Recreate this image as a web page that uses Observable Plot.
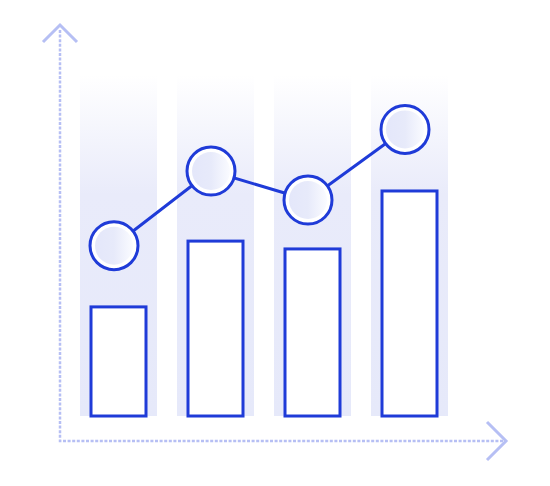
<!DOCTYPE html>
<html>
<head>
<meta charset="utf-8">
<script src="https://cdn.jsdelivr.net/npm/d3@7"></script>
<script src="https://cdn.jsdelivr.net/npm/@observablehq/plot@0.6"></script>
<style>
  html, body { margin: 0; padding: 0; background: #ffffff; }
</style>
</head>
<body>
<div id="chart"></div>
<script>
// ---- data ----
const categories = ["A", "B", "C", "D"];
const barValues = [32, 51.3, 49, 66];
const lineValues = [50.1, 72, 63.5, 84.2];
const backdropValues = [100, 100, 100, 100];

const blue = "#1f3bd8";
const axisColor = "#b6bff4";

const rows = categories.map((c, i) => ({
  cat: c, bar: barValues[i], line: lineValues[i], backdrop: backdropValues[i]
}));

const defsMark = () => {
  const g = d3.create("svg:g");
  const defs = g.append("defs");
  const bg = defs.append("linearGradient").attr("id", "bandGrad")
    .attr("x1", 0).attr("y1", 0).attr("x2", 0).attr("y2", 1);
  bg.append("stop").attr("offset", "0").attr("stop-color", "#ffffff");
  bg.append("stop").attr("offset", "0.35").attr("stop-color", "#e9ebfa");
  bg.append("stop").attr("offset", "1").attr("stop-color", "#e6e9fa");
  const cg = defs.append("linearGradient").attr("id", "circGrad")
    .attr("x1", 0).attr("y1", 0).attr("x2", 1).attr("y2", 0);
  cg.append("stop").attr("offset", "0").attr("stop-color", "#e4e7fa");
  cg.append("stop").attr("offset", "0.5").attr("stop-color", "#e7eafa");
  cg.append("stop").attr("offset", "1").attr("stop-color", "#fafbff");
  return g.node();
};

const axesMark = (index, scales, values, dims) => {
  const {width, height, marginLeft, marginRight, marginTop, marginBottom} = dims;
  const x0 = marginLeft, y0 = height - marginBottom;
  const x1 = width - marginRight, y1 = marginTop;
  const g = d3.create("svg:g").attr("fill", "none");
  g.append("path")
    .attr("d", `M${x0},${y1 + 2}V${y0}H${x1}`)
    .attr("stroke", axisColor).attr("stroke-width", 2.5)
    .attr("stroke-dasharray", "3,1.6");
  g.append("path")
    .attr("d", `M${x0 - 17},${y1 + 14}L${x0},${y1 - 3}L${x0 + 17},${y1 + 14}`)
    .attr("stroke", axisColor).attr("stroke-width", 3);
  g.append("path")
    .attr("d", `M${x1 - 18},${y0 - 19}L${x1 + 1},${y0}L${x1 - 18},${y0 + 19}`)
    .attr("stroke", axisColor).attr("stroke-width", 3);
  return g.node();
};

const chart = Plot.plot({
  width: 550,
  height: 486,
  marginLeft: 60,
  marginRight: 45,
  marginTop: 28,
  marginBottom: 45,
  style: {background: "#ffffff"},
  x: {type: "band", domain: categories, paddingInner: 0.2094, paddingOuter: 0.389, align: 0.256, axis: null},
  y: {domain: [-7.33, 113.8], axis: null},
  marks: [
    defsMark,
    Plot.barY(rows, {x: "cat", y: "backdrop", fill: "url(#bandGrad)"}),
    Plot.barY(rows, {x: "cat", y: "bar", fill: "#ffffff", stroke: blue, strokeWidth: 3, insetLeft: 11, insetRight: 11}),
    Plot.line(rows, {x: "cat", y: "line", stroke: blue, strokeWidth: 3, dx: -5}),
    Plot.dot(rows, {x: "cat", y: "line", r: 24, fill: "#ffffff", stroke: blue, strokeWidth: 3, dx: -5}),
    Plot.dot(rows, {x: "cat", y: "line", r: 19, fill: "url(#circGrad)", dx: -5}),
    axesMark
  ]
});

document.getElementById("chart").appendChild(chart);
</script>
</body>
</html>
